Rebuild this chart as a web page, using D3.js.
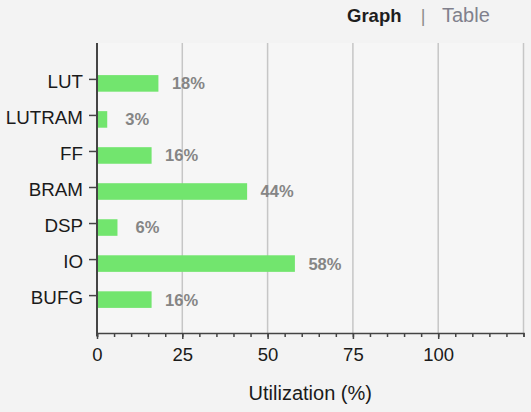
<!DOCTYPE html>
<html>
<head>
<meta charset="utf-8">
<script src="https://cdn.jsdelivr.net/npm/d3@7"></script>
<style>
  html, body { margin: 0; padding: 0; background: #f3f3f3; }
  svg { display: block; font-family: "Liberation Sans", Arial, sans-serif; }
</style>
</head>
<body>
<div class="chart"></div>
<script>
// utilization per resource type
var categories = ["LUT", "LUTRAM", "FF", "BRAM", "DSP", "IO", "BUFG"];
var utilization = [18, 3, 16, 44, 6, 58, 16];
var xTicks = [0, 25, 50, 75, 100];
var gridTicks = [25, 50, 75, 100, 125];

function drawChart(){
    var w = 531, h = 412;

    var svg = d3.select("div.chart")
              .append("svg")
              .attr("width", w)
              .attr("height", h);

    var x = d3.scaleLinear()
              .domain([0, 125])
              .range([97, 523.5]);

    var y = d3.scaleBand()
              .domain(categories)
              .range([47, 336])
              .paddingInner(0.54)
              .paddingOuter(0.78);

    //plot background
    svg.append("rect")
        .attr("x", x(0))
        .attr("y", 43)
        .attr("width", x(125) - x(0))
        .attr("height", 333 - 43)
        .attr("fill", "#f6f6f6");

    //vertical grid
    svg.selectAll(".grid")
        .data(gridTicks)
        .enter()
        .append("line")
            .attr("x1", d => x(d))
            .attr("x2", d => x(d))
            .attr("y1", 43)
            .attr("y2", 333)
            .attr("stroke", "#c6c6c6")
            .attr("stroke-width", 1.5);

    //bars
    svg.selectAll(".bar")
        .data(categories)
        .enter()
        .append("rect")
            .attr("x", x(0))
            .attr("y", d => y(d))
            .attr("width", (d, i) => x(utilization[i]) - x(0))
            .attr("height", y.bandwidth())
            .attr("fill", "#72e56e");

    //value labels
    svg.selectAll(".val")
        .data(categories)
        .enter()
        .append("text")
            .attr("x", (d, i) => x(utilization[i]) + 30)
            .attr("y", d => y(d) + y.bandwidth() / 2)
            .attr("dy", "0.36em")
            .attr("text-anchor", "middle")
            .attr("font-size", "16.5px")
            .attr("font-weight", "bold")
            .attr("fill", "#858585")
            .text((d, i) => utilization[i] + "%");

    //x axis: minor ticks every 5
    var xAxis = svg.append("g")
        .attr("transform", "translate(0,333)")
        .call(d3.axisBottom(x)
            .tickValues(d3.range(0, 126, 5))
            .tickSize(4)
            .tickFormat(""));
    xAxis.select(".domain").attr("stroke", "#444").attr("stroke-width", 1.5);
    xAxis.selectAll(".tick line").attr("stroke", "#444").attr("stroke-width", 1.5);

    var xMajor = svg.append("g")
        .attr("transform", "translate(0,333)")
        .call(d3.axisBottom(x)
            .tickValues(xTicks)
            .tickSize(6)
            .tickPadding(9));
    xMajor.select(".domain").remove();
    xMajor.selectAll(".tick line").attr("stroke", "#444").attr("stroke-width", 1.5);
    xMajor.selectAll("text")
        .attr("font-size", "18.5px")
        .attr("font-family", "Liberation Sans, Arial, sans-serif")
        .attr("fill", "#1a1a1a");

    //y axis
    var yAxis = svg.append("g")
        .attr("transform", "translate(97,-4)")
        .call(d3.axisLeft(y).tickSize(8).tickPadding(6));
    yAxis.select(".domain")
        .attr("d", "M0,47V340")
        .attr("stroke", "#444")
        .attr("stroke-width", 2);
    yAxis.selectAll(".tick line").attr("stroke", "#444").attr("stroke-width", 1.5);
    yAxis.selectAll("text")
        .attr("dy", "0.45em")
        .attr("font-size", "18.8px")
        .attr("font-family", "Liberation Sans, Arial, sans-serif")
        .attr("fill", "#1a1a1a");

    //axis title
    svg.append("text")
        .attr("x", (x(0) + x(125)) / 2)
        .attr("y", 400)
        .attr("text-anchor", "middle")
        .attr("font-size", "20px")
        .attr("fill", "#1a1a1a")
        .text("Utilization (%)");

    //Graph | Table switch
    svg.append("text")
        .attr("x", 347)
        .attr("y", 22)
        .attr("font-size", "18.5px")
        .attr("font-weight", "bold")
        .attr("fill", "#1e1e1e")
        .text("Graph");
    svg.append("text")
        .attr("x", 423)
        .attr("y", 22)
        .attr("text-anchor", "middle")
        .attr("font-size", "18px")
        .attr("fill", "#8c8c8c")
        .text("|");
    svg.append("text")
        .attr("x", 442)
        .attr("y", 22)
        .attr("font-size", "20px")
        .attr("fill", "#80808c")
        .text("Table");
}

drawChart();
</script>
</body>
</html>
